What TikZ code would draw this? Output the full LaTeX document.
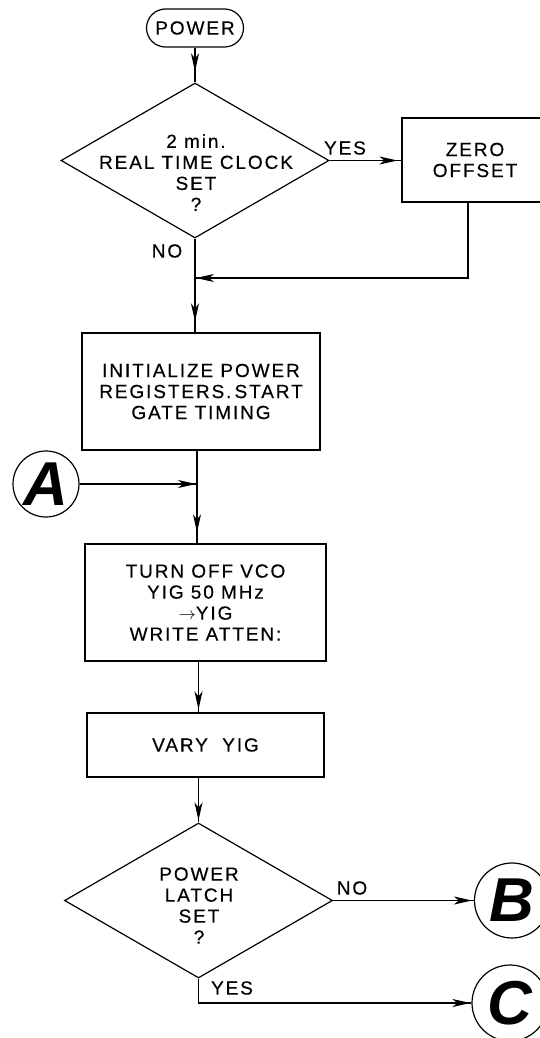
\documentclass[tikz,border=0pt]{standalone}
\usepackage{fontspec}
\setmainfont{Liberation Sans}[LetterSpace=10,FakeBold=0.4]
\newfontfamily\connfont{Liberation Sans}
\usetikzlibrary{arrows.meta,decorations.markings,shapes.geometric,calc}
\tikzset{
  ftip/.tip={Stealth[length=18pt,width=8pt,inset=5pt]},
  line/.style={draw, line width=1.2pt},
  flow/.style={line, postaction={decorate},
    decoration={markings, mark=at position #1 with {\arrow{ftip}}}},
  flow/.default=-1pt,
  txt/.style={align=center, inner sep=0pt, font=\fontsize{19}{21}\selectfont},
  box/.style={line, txt, rectangle},
  dec/.style={line, diamond, inner sep=0pt, minimum width=268pt, minimum height=155pt},
  conn/.style={line, circle, inner sep=0pt,
    font={\connfont\fontsize{62}{62}\selectfont\bfseries\itshape}},
}
\newcommand{\smallarrow}{{\fontsize{17}{17}\selectfont$\rightarrow$}}
\begin{document}
\begin{tikzpicture}[x=1pt,y=-1pt]
\useasboundingbox (0,0) rectangle (540,1038);

% nodes
\node[box, rounded corners=19pt, minimum width=97pt, minimum height=38pt] (power) at (195,28) {POWER};
\node[dec] (d1) at (195,160.5) {};
\node[txt] (d1t) at (196,172.5) {2 min.\\REAL TIME CLOCK\\SET\\?};
\node[txt] (yes1) at (345,148) {YES};
\node[box, minimum width=146pt, minimum height=84pt] (zero) at (475,160) {ZERO\\OFFSET};
\node[txt] (no1) at (167,251) {NO};
\coordinate (m1) at (195,278);
\node[box, minimum width=238pt, minimum height=117pt] (init) at (201,391.5) {INITIALIZE POWER\\REGISTERS.\,START\\GATE TIMING};
\node[conn, minimum size=66pt] (A) at (46,484) {A};
\coordinate (mA) at (197,484);
\node[box, minimum width=241pt, minimum height=117pt] (turn) at (205.5,602.5) {TURN OFF VCO\\YIG 50 MHz\\\smallarrow YIG\\WRITE ATTEN:};
\node[box, minimum width=237pt, minimum height=64pt] (vary) at (205.5,745) {VARY~~YIG};
\node[dec] (d2) at (198.5,900.5) {};
\node[txt] (d2t) at (199,905.5) {POWER\\LATCH\\SET\\?};
\node[txt] (no2) at (352,888) {NO};
\node[txt] (yes2) at (232,988) {YES};
\node[conn, minimum size=75pt] (B) at (512,900.5) {B};
\node[conn, minimum size=76pt] (C) at (510,1003) {C};

% connectors
\draw[flow=-11pt] (power.south) -- (power.south |- d1.north);
\draw[flow=-4pt] (d1.east) -- (zero.west |- d1.east);
\draw[line] ([xshift=-7pt]zero.south) |- (m1);
\draw[flow=-1pt] ([xshift=-7pt]zero.south |- m1) -- (m1);
\draw[flow=-11pt] (d1.south) -- (d1.south |- init.north);
\draw[line] (init.south -| mA) -- (mA);
\draw[flow=-11pt] (mA) -- (mA |- turn.north);
\draw[flow=-1pt] (A.east) -- (mA);
\draw[flow=-3pt] (turn.south -| d2.north) -- (d2.north |- vary.north);
\draw[flow=-2pt] (vary.south -| d2.north) -- (d2.north);
\draw[flow=-2pt] (d2.east) -- (B.west);
\draw[flow=-1pt] (d2.south) |- (C.west);
\end{tikzpicture}
\end{document}
